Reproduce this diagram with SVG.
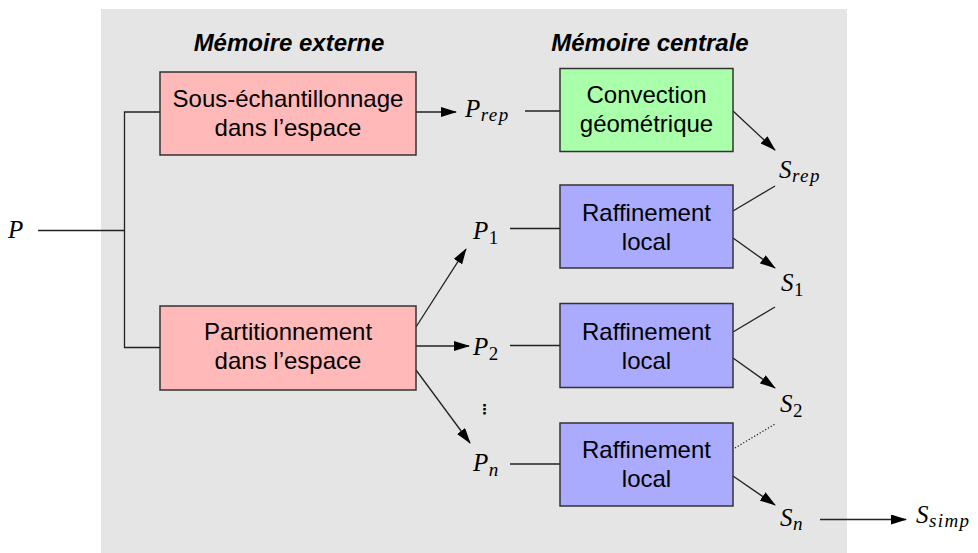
<svg xmlns="http://www.w3.org/2000/svg" width="978" height="553" viewBox="0 0 978 553">
<style>
.box{stroke:#333;stroke-width:1.5}
.red{fill:#ffb9b9}
.green{fill:#aaffaa}
.blue{fill:#aaaaff}
.t{font-family:"Liberation Sans",Arial,sans-serif;font-size:24px;fill:#000;text-anchor:middle}
.title{font-family:"Liberation Sans",Arial,sans-serif;font-size:24px;font-weight:bold;font-style:italic;fill:#000;text-anchor:middle}
.m{font-family:"Liberation Serif","Times New Roman",serif;font-style:italic;font-size:25px;fill:#000;letter-spacing:0.5px}
.sub{font-size:19px;letter-spacing:1.4px}
.num{font-style:normal}
.c{fill:none;stroke:#222;stroke-width:1.3}
.a{marker-end:url(#ah)}
</style>
<defs>
<marker id="ah" markerUnits="userSpaceOnUse" viewBox="0 0 16 10" refX="15" refY="5" markerWidth="16" markerHeight="10" orient="auto">
<path d="M0,0 L16,5 L0,10 z" fill="#000"/>
</marker>
</defs>
<rect x="101" y="9" width="746" height="544" fill="#e5e5e5"/>
<text class="title" x="289" y="50.5">Mémoire externe</text>
<text class="title" x="650" y="50.5">Mémoire centrale</text>

<g id="connectors">
<path class="c" d="M38,230.5 H124.5"/>
<path class="c" d="M160,112 H124.5 V347.5 H160"/>
<path class="c a" d="M416,112 H456"/>
<path class="c" d="M525,111 H560"/>
<path class="c a" d="M733,111 L775,150"/>
<path class="c a" d="M416,327 L466,249"/>
<path class="c a" d="M416,346 H469"/>
<path class="c a" d="M416,370 L470,443"/>
<path class="c" d="M510,228.5 H560"/>
<path class="c" d="M510,345.5 H560"/>
<path class="c" d="M510,464 H560"/>
<path class="c" d="M733,211 L775,186"/>
<path class="c a" d="M733,238 L775,268"/>
<path class="c" d="M733,332 L775,307"/>
<path class="c a" d="M733,358 L775,388"/>
<path class="c" d="M735,448 L775,424" stroke-dasharray="1.2,2"/>
<path class="c a" d="M733,476 L775,505"/>
<path class="c a" d="M820,519.5 H906"/>
</g>

<g id="sous-echantillonnage">
<rect class="box red" x="160" y="72" width="256" height="83"/>
<text class="t" x="288" y="106.5">Sous-échantillonnage</text>
<text class="t" x="288" y="136">dans l’espace</text>
</g>
<g id="partitionnement">
<rect class="box red" x="160" y="306" width="256" height="84"/>
<text class="t" x="288" y="340">Partitionnement</text>
<text class="t" x="288" y="368.5">dans l’espace</text>
</g>
<g id="convection">
<rect class="box green" x="560" y="68.5" width="173" height="83"/>
<text class="t" x="646.5" y="102.5">Convection</text>
<text class="t" x="646.5" y="131.5">géométrique</text>
</g>
<g id="raffinement1">
<rect class="box blue" x="560" y="185" width="173" height="83"/>
<text class="t" x="646.5" y="220.5">Raffinement</text>
<text class="t" x="646.5" y="250">local</text>
</g>
<g id="raffinement2">
<rect class="box blue" x="560" y="303.5" width="173" height="84"/>
<text class="t" x="646.5" y="340">Raffinement</text>
<text class="t" x="646.5" y="368.5">local</text>
</g>
<g id="raffinement3">
<rect class="box blue" x="560" y="423" width="173" height="83"/>
<text class="t" x="646.5" y="458">Raffinement</text>
<text class="t" x="646.5" y="486.5">local</text>
</g>

<g id="P"><text class="m" x="8" y="238">P</text></g>
<g id="Prep"><text class="m" x="465" y="117">P<tspan class="sub" dy="4">rep</tspan></text></g>
<g id="P1"><text class="m" x="473" y="239">P<tspan class="sub num" dy="5">1</tspan></text></g>
<g id="P2"><text class="m" x="473" y="355">P<tspan class="sub num" dy="5">2</tspan></text></g>
<g id="dots"><text x="484.5" y="414" style="font-family:'DejaVu Sans',sans-serif;font-size:14px;font-weight:bold;text-anchor:middle">⋮</text></g>
<g id="Pn"><text class="m" x="473" y="471">P<tspan class="sub" dy="5">n</tspan></text></g>
<g id="Srep"><text class="m" x="779" y="178">S<tspan class="sub" dy="4">rep</tspan></text></g>
<g id="S1"><text class="m" x="781" y="291">S<tspan class="sub num" dy="5">1</tspan></text></g>
<g id="S2"><text class="m" x="780" y="412">S<tspan class="sub num" dy="5">2</tspan></text></g>
<g id="Sn"><text class="m" x="780" y="526">S<tspan class="sub" dy="4">n</tspan></text></g>
<g id="Ssimp"><text class="m" x="916" y="523">S<tspan class="sub" dy="4">simp</tspan></text></g>
</svg>
